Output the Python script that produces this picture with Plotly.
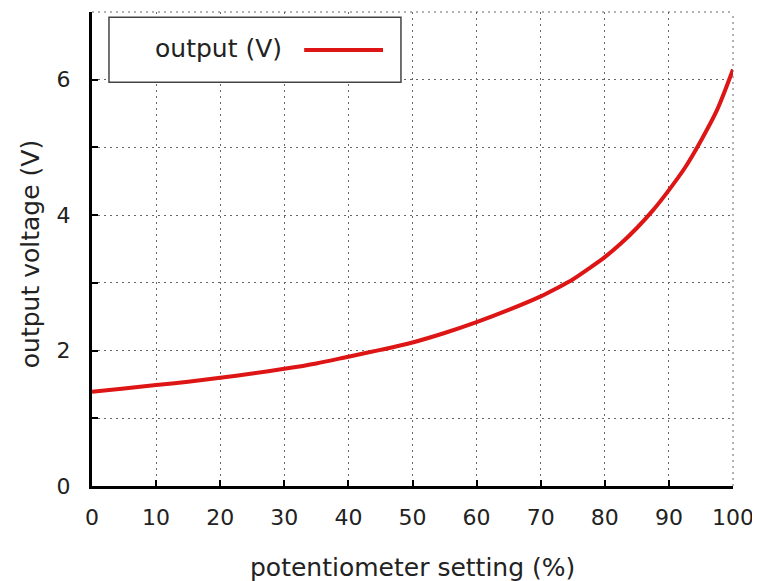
import plotly.graph_objects as go

setting_pct = [0, 5, 10, 15, 20, 25, 30, 35, 40, 45, 50, 55, 60, 65, 70, 72.5, 75, 77.5, 80, 82.5, 85,
               87.5, 90, 92.5, 95, 97.5, 100]
output_v = [1.39, 1.44, 1.49, 1.54, 1.60, 1.66, 1.73, 1.81, 1.91, 2.01, 2.12, 2.26, 2.42, 2.60, 2.80, 2.92,
            3.05, 3.21, 3.38, 3.58, 3.81, 4.07, 4.37, 4.70, 5.10, 5.55, 6.15]

x_ticks = [0, 10, 20, 30, 40, 50, 60, 70, 80, 90, 100]
y_ticks = [0, 1, 2, 3, 4, 5, 6, 7]
y_labels = ["0", "", "2", "", "4", "", "6", ""]

FONT = "DejaVu Sans, sans-serif"
TXT = "#222222"
GRID = "#666666"
DASH = "2px,4px"

fig = go.Figure()
fig.add_trace(go.Scatter(x=setting_pct, y=output_v, mode="lines", name="output (V)",
                         line=dict(color="#dd1515", width=4, shape="spline", smoothing=0.8),
                         showlegend=False))

axis_common = dict(showline=True, linecolor="black", linewidth=3, automargin=False,
                   ticks="inside", ticklen=6, tickwidth=2, tickcolor="black",
                   showgrid=True, gridcolor=GRID, griddash=DASH, gridwidth=1,
                   zeroline=False, tickfont=dict(size=22, color=TXT, family=FONT))

fig.update_xaxes(range=[0, 100], tickvals=x_ticks, ticktext=[str(v) for v in x_ticks],
                 ticklabelstandoff=10, **axis_common)
fig.update_yaxes(range=[0, 7], tickvals=y_ticks, ticktext=y_labels,
                 ticklabelstandoff=14, **axis_common)

# axis titles
fig.add_annotation(xref="paper", yref="paper", x=0.5, y=-0.171, xanchor="center", yanchor="middle",
                   text="potentiometer setting (%)", showarrow=False,
                   font=dict(size=25, color=TXT, family=FONT))
fig.add_annotation(xref="paper", yref="paper", x=-0.0967, y=0.489, xanchor="center", yanchor="middle",
                   text="output voltage (V)", showarrow=False, textangle=-90,
                   font=dict(size=25, color=TXT, family=FONT))

# top / right dotted border lines
fig.add_shape(type="line", xref="x domain", yref="y domain", x0=0, x1=1, y0=1, y1=1,
              line=dict(color=GRID, width=1, dash=DASH), layer="below")
fig.add_shape(type="line", xref="x domain", yref="y domain", x0=1, x1=1, y0=0, y1=1,
              line=dict(color=GRID, width=1, dash=DASH), layer="below")

# legend box
fig.add_shape(type="rect", xref="x domain", yref="y domain", x0=0.0265, x1=0.482, y0=0.852, y1=0.989,
              line=dict(color="#444444", width=1.5), fillcolor="white", layer="above")
fig.add_shape(type="line", xref="x domain", yref="y domain", x0=0.331, x1=0.454, y0=0.92, y1=0.92,
              line=dict(color="#dd1515", width=4))
fig.add_annotation(xref="x domain", yref="y domain", x=0.2995, y=0.922, xanchor="right", yanchor="middle",
                   text="output (V)", showarrow=False, font=dict(size=25, color=TXT, family=FONT))

# page body has an 8px margin, so the figure is offset by 8px; size and margins compensate
fig.update_layout(width=752, height=573, margin=dict(l=84, r=27, t=4, b=95),
                  paper_bgcolor="white", plot_bgcolor="white",
                  font=dict(family=FONT, color=TXT))

fig.write_html("out.html")
